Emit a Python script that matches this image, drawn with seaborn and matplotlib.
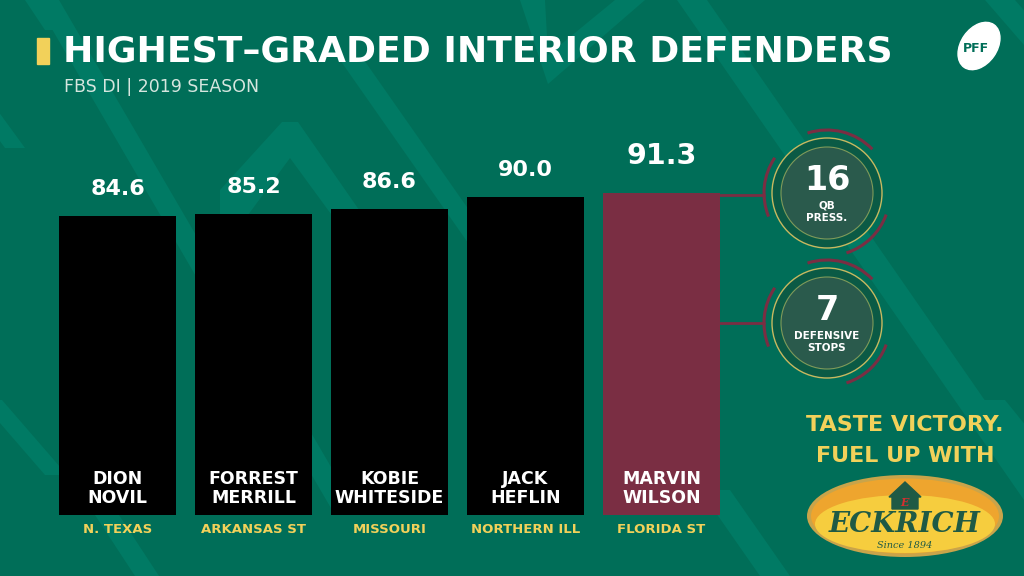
import matplotlib
matplotlib.use("Agg")
import matplotlib.pyplot as plt
import seaborn as sns
import pandas as pd
from matplotlib.patches import Rectangle, Ellipse, Circle, Arc, Polygon
from matplotlib.lines import Line2D

# ---- data ----
first_names = ["DION", "FORREST", "KOBIE", "JACK", "MARVIN"]
last_names = ["NOVIL", "MERRILL", "WHITESIDE", "HEFLIN", "WILSON"]
teams = ["N. TEXAS", "ARKANSAS ST", "MISSOURI", "NORTHERN ILL", "FLORIDA ST"]
grades = [84.6, 85.2, 86.6, 90.0, 91.3]
stat_values = ["16", "7"]
stat_labels = ["QB\nPRESS.", "DEFENSIVE\nSTOPS"]
title = "HIGHEST\u2013GRADED INTERIOR DEFENDERS"
subtitle = "FBS DI | 2019 SEASON"

BG = "#006e58"
STRIPE = "#007a64"
MAROON = "#7a2e43"
YELLOW = "#f2d15a"
bar_colors = ["#000000", "#000000", "#000000", "#000000", MAROON]

sns.set_theme(style="white")
plt.rcParams["font.family"] = ["DejaVu Sans"]

W, H = 1024, 576
fig = plt.figure(figsize=(W / 100, H / 100), dpi=100, facecolor=BG)

def px(x, y):
    return x / W, 1 - y / H

# background decoration (pixel coordinates, y down)
bg = fig.add_axes([0, 0, 1, 1], zorder=-5)
bg.set_xlim(0, W)
bg.set_ylim(H, 0)
bg.axis("off")
bg.add_patch(Rectangle((0, 0), W, H, color=BG, zorder=0))

def band(x0, y0, x1, y1, w):
    return [(x0, y0), (x0 + w, y0), (x1 + w, y1), (x1, y1)]

shapes = [
    band(35, 0, 335, 515, 24),      # long stripe behind bars 1-2
    band(25, 0, 45, 30, 22),
    band(-30, 100, 5, 148, 20),
    band(-20, 400, 45, 475, 22),
    band(95, 515, 135, 576, 24),
    band(340, 60, 480, 260, 24),
    band(677, 0, 1024, 500, 30),    # long stripe on right
    band(985, 0, 1024, 45, 30),
    band(975, 400, 1040, 480, 30),
    band(700, 490, 760, 576, 30),
    # rounded chevron (inverted V) behind bars 2-3
    [(220, 190), (282, 122), (298, 122), (380, 240), (350, 240), (290, 158), (248, 215), (220, 215)],
    # down-pointing chevron under the title
    [(520, 0), (545, 0), (548, 55), (615, 0), (645, 0), (548, 84)],
]
for s in shapes:
    bg.add_patch(Polygon(s, closed=True, color=STRIPE, lw=0, zorder=1))

# ---- bars ----
df = pd.DataFrame({"player": [f"{a}\n{b}" for a, b in zip(first_names, last_names)],
                   "grade": grades})
ax = fig.add_axes([49.5 / W, (H - 515) / H, 680 / W, 353 / H])
sns.barplot(data=df, x="player", y="grade", hue="player", palette=bar_colors,
            legend=False, width=0.86, saturation=1, linewidth=0, edgecolor="none",
            ax=ax)
ax.set_xlim(-0.5, 4.5)
ax.set_ylim(0, 100)
ax.set_facecolor("none")
ax.axis("off")

for i, (g, fn, ln, tm) in enumerate(zip(grades, first_names, last_names, teams)):
    big = i == len(grades) - 1
    ax.text(i, g + (6.5 if big else 5.0), f"{g:.1f}", ha="center", va="bottom",
            color="white", fontsize=20.5 if big else 16, fontweight="bold")
    ax.text(i, 10.3, fn, ha="center", va="center", color="white",
            fontsize=12.5, fontweight="bold")
    ax.text(i, 4.7, ln, ha="center", va="center", color="white",
            fontsize=12.5, fontweight="bold")
    ax.text(i, -4.0, tm, ha="center", va="center", color=YELLOW,
            fontsize=9.5, fontweight="bold", clip_on=False)

# ---- title area ----
fig.add_artist(Rectangle(px(37, 64), 12 / W, 26 / H, color=YELLOW,
                         transform=fig.transFigure))
fig.text(*px(63, 51), title, color="white", fontsize=26, fontweight="bold",
         ha="left", va="center")
fig.text(*px(64, 87), subtitle, color="#d6e6df", fontsize=12.5,
         ha="left", va="center")

ov = fig.add_axes([0, 0, 1, 1], zorder=5)
ov.set_xlim(0, W)
ov.set_ylim(H, 0)
ov.axis("off")
ov.patch.set_alpha(0)

# PFF logo
ov.add_patch(Ellipse((979, 46), 36, 52, angle=35, color="white", zorder=2))
ov.text(976, 48, "PFF", color=BG, fontsize=9, fontweight="bold",
        ha="center", va="center", zorder=3)

# ---- stat circles ----
centers = [(827, 193), (827, 323)]
line_y = [195, 323]
for (cx, cy), ly, val, lab in zip(centers, line_y, stat_values, stat_labels):
    ov.add_line(Line2D([720, 764], [ly, ly], color=MAROON, lw=2, zorder=2))
    ov.add_patch(Circle((cx, cy), 55, facecolor="#0b5a45", edgecolor="#c8b960",
                        lw=1.0, zorder=3))
    ov.add_patch(Circle((cx, cy), 46, facecolor="#2a5a4c", edgecolor="#7f9a5a",
                        lw=0.8, zorder=4))
    # y axis is inverted here, so angles are mirrored
    for t1, t2 in [(-108, -44), (-202, -146), (20, 72)]:
        ov.add_patch(Arc((cx, cy), 126, 126, theta1=t1, theta2=t2,
                         color=MAROON, lw=2.2, zorder=3))
    ov.text(cx, cy - 12, val, color="white", fontsize=24, fontweight="bold",
            ha="center", va="center", zorder=5)
    ov.text(cx, cy + 19, lab, color="white", fontsize=7.5, fontweight="bold",
            ha="center", va="center", linespacing=1.25, zorder=5)

# ---- sponsor ----
ov.text(905, 425, "TASTE VICTORY.", color=YELLOW, fontsize=16, fontweight="bold",
        ha="center", va="center", zorder=5)
ov.text(905, 456, "FUEL UP WITH", color=YELLOW, fontsize=16, fontweight="bold",
        ha="center", va="center", zorder=5)
ov.add_patch(Ellipse((905, 516), 196, 82, facecolor="#c9a44a", lw=0, zorder=3))
ov.add_patch(Ellipse((905, 516), 188, 75, facecolor="#eea52e", lw=0, zorder=3))
ov.add_patch(Ellipse((905, 524), 180, 58, facecolor="#f6cd3e", lw=0, zorder=3))
ov.add_patch(Polygon([(889, 497), (905, 482), (921, 497), (918, 497), (918, 509),
                      (892, 509), (892, 497)], closed=True, color="#1f5a45", zorder=4))
ov.text(905, 502, "E", color="#d32f2f", fontsize=8, fontweight="bold",
        fontstyle="italic", family="DejaVu Serif", ha="center", va="center", zorder=5)
ov.text(905, 525, "ECKRICH", color="#1f5a45", fontsize=20, fontweight="bold",
        fontstyle="italic", family="DejaVu Serif", ha="center", va="center", zorder=5)
ov.text(905, 546, "Since 1894", color="#1f5a45", fontsize=7, fontstyle="italic",
        family="DejaVu Serif", ha="center", va="center", zorder=5)

fig.savefig("out.png", dpi=100, facecolor=BG)
